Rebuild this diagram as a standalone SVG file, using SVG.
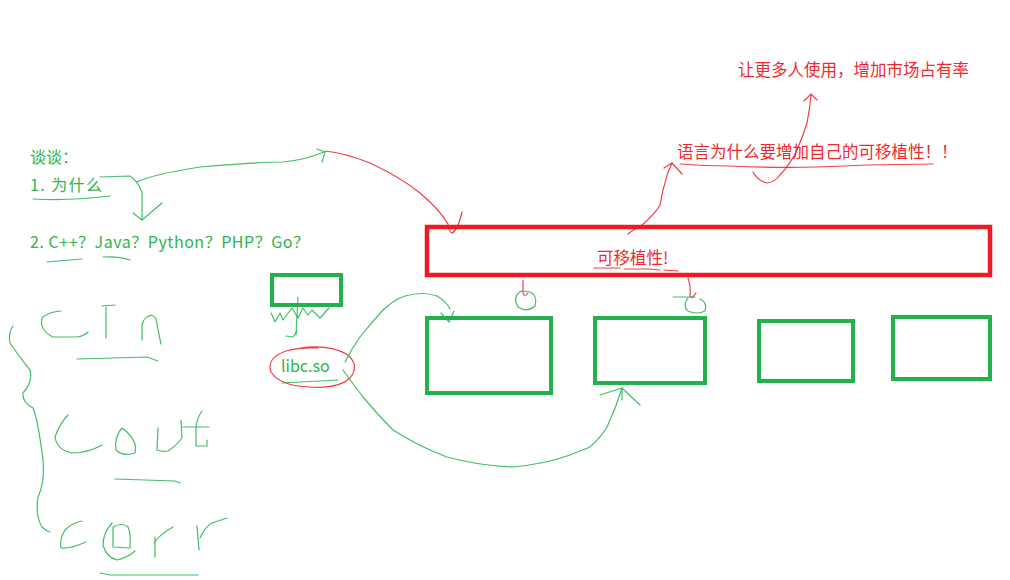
<svg xmlns="http://www.w3.org/2000/svg" width="1010" height="580" viewBox="0 0 1010 580">
<style>
.bg{fill:#ffffff}
.gbox{fill:none;stroke:#22b14c;stroke-width:4}
.rbox{fill:none;stroke:#ed1c24;stroke-width:4.5}
.gt{fill:#2fb34d;font-family:"Noto Sans CJK SC","Noto Sans",sans-serif;font-size:16px}
.rt{fill:#ee2a30;font-family:"Noto Sans CJK SC","Noto Sans",sans-serif;font-size:16.5px}
.g{fill:none;stroke:#22b14c;stroke-width:1.2;stroke-linecap:round;stroke-linejoin:round;opacity:0.85}
.r{fill:none;stroke:#ed1c24;stroke-width:1.2;stroke-linecap:round;stroke-linejoin:round;opacity:0.85}
</style>
<rect class="bg" x="0" y="0" width="1010" height="580"/>

<g id="text-talk">
<text class="gt" x="30" y="163">谈谈：</text>
<text class="gt" x="30" y="191" textLength="72" lengthAdjust="spacing">1. 为什么</text>
<text class="gt" x="30" y="248" textLength="279" lengthAdjust="spacing">2. C++？Java？Python？PHP？Go？</text>
</g>

<g id="portability-box">
<rect class="rbox" x="427" y="227" width="563" height="48"/>
<text class="rt" x="597" y="264">可移植性!</text>
</g>

<g id="why-text">
<text class="rt" x="677" y="158">语言为什么要增加自己的可移植性！！</text>
</g>

<g id="market-text">
<text class="rt" x="738" y="76">让更多人使用，增加市场占有率</text>
</g>

<g id="small-box"><rect class="gbox" x="272" y="275" width="69" height="30"/></g>
<g id="libc"><text class="gt" x="281" y="372">libc.so</text></g>
<g id="box-a"><rect class="gbox" x="427" y="318" width="124" height="75"/></g>
<g id="box-b"><rect class="gbox" x="595" y="318" width="110" height="65"/></g>
<g id="box-c"><rect class="gbox" x="759" y="321" width="94" height="60"/></g>
<g id="box-d"><rect class="gbox" x="893" y="317" width="97" height="62"/></g>

<g id="connectors">
<!-- underline 1. 为什么 -->
<path class="g" d="M33,199 Q70,201 110,196"/>
<!-- arrow down from 为什么 -->
<path class="g" d="M100,177 L130,176 Q137,180 142,192 L142,220"/>
<path class="g" d="M133,213 L142,220 L162,203"/>
<!-- long arrow to the right -->
<path class="g" d="M137,182 Q150,175 200,167 Q260,162 283,162 Q305,160 324,152"/>
<path class="g" d="M317,149 L325,152 L322,162"/>
<!-- red curve to portability box -->
<path class="r" d="M325,151 Q345,153 370,163 Q400,177 420,193 Q440,210 448,224 Q449,232 452,233 Q458,230 462,212"/>
<!-- underlines C++ and Java -->
<path class="g" d="M47,262 L82,259"/>
<path class="g" d="M103,257 Q118,256 130,260"/>

<!-- brace -->
<path class="g" d="M13,326 Q8,333 10,343 Q20,358 30,370 Q33,382 23,393 Q22,402 33,408 Q38,420 43,460 Q45,482 38,497 Q35,515 42,527 Q46,531 50,532"/>
<!-- cin -->
<path class="g" d="M61,311 Q48,312 42,318 Q39,330 53,337 L77,337 Q84,336 88,332"/>
<path class="g" d="M106,307 L106,338 M102,306 L115,305"/>
<path class="g" d="M142,340 L142,325 Q144,318 147,317 Q153,313 156,319 Q158,330 161,344"/>
<path class="g" d="M77,359 L147,357 L158,361"/>
<!-- cout -->
<path class="g" d="M68,415 Q60,423 55,437 Q57,450 72,453 Q88,453 102,445"/>
<path class="g" d="M122,428 Q114,437 116,450 Q123,457 135,453 Q138,443 127,432 Z"/>
<path class="g" d="M158,428 L157,450 Q163,452 168,451 Q176,446 182,438 L181,420"/>
<path class="g" d="M202,411 Q197,418 196,427 L196,446 L207,446 L207,440 M183,427 L209,427"/>
<path class="g" d="M115,479 L175,481 L180,483"/>
<!-- cerr -->
<path class="g" d="M82,521 Q72,523 65,530 Q59,540 61,548 Q70,549 86,542"/>
<path class="g" d="M112,523 Q103,533 103,545 Q106,557 117,560 Q127,558 135,551"/>
<path class="g" d="M113,527 L113,547 L130,548 Q131,533 128,527 Q122,522 113,527"/>
<path class="g" d="M155,537 L155,557 M154,543 Q160,534 173,527"/>
<path class="g" d="M197,526 L199,550 M200,538 Q205,527 212,523 L227,518"/>
<path class="g" d="M100,573 L110,575 L198,575"/>

<!-- small box arrow + zigzag -->
<path class="g" d="M298,297 L296,335"/>
<path class="g" d="M286,336 L293,337 L297,331"/>
<path class="g" d="M271,313 L275,322 L280,313 L283,320 L292,308 L298,318 L303,308 L308,315 L312,310 L320,318 L329,308"/>
<!-- ellipse around libc.so -->
<path class="r" d="M300,348 Q330,344 348,355 Q360,366 350,378 Q338,389 310,387 Q280,386 271,372 Q266,358 286,351 Q300,347 318,348"/>
<path class="g" d="M282,383 L338,380"/>
<!-- libc.so to box A -->
<path class="g" d="M345,362 Q352,348 360,337 Q372,322 383,310 Q395,299 405,296 Q423,291 437,296 Q446,301 450,309"/>
<path class="g" d="M441,313 L449,322 L454,311"/>
<!-- libc.so to box B -->
<path class="g" d="M343,370 Q350,380 363,397 Q378,415 393,430 Q420,447 447,457 Q480,466 513,467 Q545,464 570,455 L590,447 Q602,436 607,427 Q616,408 622,388"/>
<path class="g" d="M600,395 L622,388 L640,405 M622,388 L622,400"/>

<!-- ticks + circles under portability box -->
<path class="r" d="M523,280 L523,293 Q524,298 528,293"/>
<path class="g" d="M521,291 Q512,297 518,307 Q527,313 535,306 Q538,296 530,292 Q525,291 521,291"/>
<path class="r" d="M688,278 Q691,286 690,296 Q692,300 696,293"/>
<path class="g" d="M673,297 L695,297"/>
<path class="g" d="M688,298 Q682,306 688,311 Q697,315 705,311 Q708,303 700,299"/>

<!-- underline 可移植性 -->
<path class="r" d="M594,268 L620,268 M624,269 L650,269 L660,270 M664,270 L678,271"/>
<!-- red arrow from box up to why-text -->
<path class="r" d="M628,234 Q636,228 642,225 Q655,214 660,205 Q662,195 663,190 Q666,180 667,175 L672,163"/>
<path class="r" d="M664,168 L672,163 L682,174"/>
<!-- underline why-text -->
<path class="r" d="M680,164 Q705,166 730,166 Q775,168 817,167 Q845,166 867,165 L933,164"/>
<!-- red arrow to market-text -->
<path class="r" d="M753,172 Q758,181 767,183 Q775,182 780,175 Q791,163 797,150 Q803,136 807,123 Q810,108 811,95"/>
<path class="r" d="M804,101 L811,94 L817,100"/>
</g>
</svg>
